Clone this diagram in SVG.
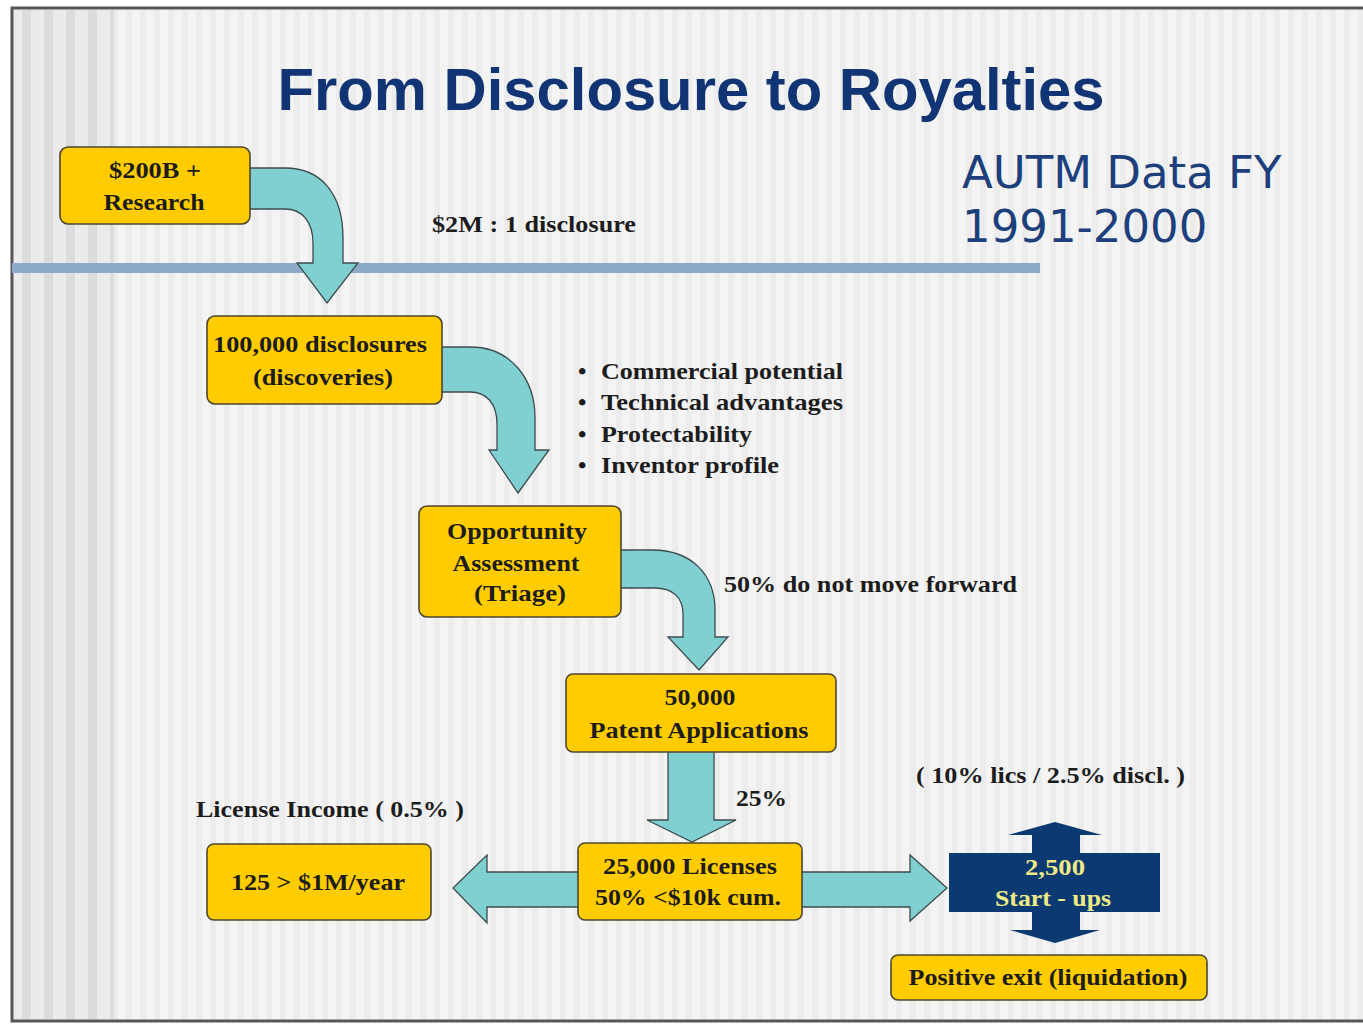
<svg xmlns="http://www.w3.org/2000/svg" width="1363" height="1024" viewBox="0 0 1363 1024">
<defs>
<pattern id="stripes" x="0" y="0" width="14" height="10" patternUnits="userSpaceOnUse">
<rect width="14" height="10" fill="#f4f4f4"/>
<rect width="6" height="10" fill="#ececec"/>
</pattern>
<pattern id="stripesDark" x="0" y="0" width="22" height="10" patternUnits="userSpaceOnUse">
<rect width="22" height="10" fill="#ebebeb"/>
<rect width="9" height="10" fill="#dcdcdc"/>
</pattern>
<style>
.box{fill:#ffcc00;stroke:#4f4630;stroke-width:1.6}
.arrow{fill:#80d0d2;stroke:#3b4b4d;stroke-width:1.3;stroke-linejoin:miter}
.t{font-family:"Liberation Serif","Times New Roman",serif;font-weight:bold;font-size:24px;fill:#1c1c1c}
.c{text-anchor:middle}
.title{font-family:"Liberation Sans",Arial,sans-serif;font-weight:bold;font-size:60px;fill:#113574}
.autm{font-family:"DejaVu Sans",Verdana,sans-serif;font-size:45px;fill:#1d3f7c}
.su{font-family:"Liberation Serif","Times New Roman",serif;font-weight:bold;font-size:24px;fill:#eeea86;text-anchor:middle}
</style>
</defs>
<rect width="1363" height="1024" fill="#ffffff"/>
<rect x="12" y="8" width="1360" height="1013" fill="url(#stripes)"/>
<rect x="14" y="10" width="100" height="1009" fill="url(#stripesDark)"/>
<rect x="12" y="8" width="1360" height="1013" fill="none" stroke="#575757" stroke-width="3"/>

<text class="title" x="691" y="110" text-anchor="middle" textLength="827" lengthAdjust="spacingAndGlyphs">From Disclosure to Royalties</text>
<g id="autm">
<text class="autm" x="962" y="188">AUTM Data FY</text>
<text class="autm" x="962" y="242">1991-2000</text>
</g>
<rect x="12" y="263" width="1028" height="10" fill="#8eaacb"/>

<g id="connectors">
<path class="arrow" d="M245,168 H285 C322,168 343,195 343,238 V263 H358 L327,303 L297,263 H313 V243 C313,222 302,209 285,209 H245 Z"/>
<path class="arrow" d="M437,347 H470 C510,347 535,378 535,418 V450 H549 L518,493 L489,450 H497 V424 C497,404 487,392 470,392 H437 Z"/>
<path class="arrow" d="M616,550 H652 C692,550 715,575 715,610 V637 H728 L699,670 L668,637 H683 V614 C683,597 672,588 655,588 H616 Z"/>
<path class="arrow" d="M668,748 V820 H647 L692,842 L736,820 H714 V748 Z"/>
<path class="arrow" d="M583,872 H487 V855 L453,888 L487,923 V907 H583 Z"/>
<path class="arrow" d="M797,872 H910 V855 L947,888 L910,921 V907 H797 Z"/>
</g>

<g id="research">
<rect class="box" x="60" y="147" width="190" height="77" rx="8"/>
<text class="t c" x="155" y="178" textLength="92" lengthAdjust="spacingAndGlyphs">$200B +</text>
<text class="t c" x="154" y="210" textLength="101" lengthAdjust="spacingAndGlyphs">Research</text>
</g>
<g id="disclosures">
<rect class="box" x="207" y="316" width="235" height="88" rx="8"/>
<text class="t c" x="320" y="352" textLength="214" lengthAdjust="spacingAndGlyphs">100,000 disclosures</text>
<text class="t c" x="323" y="385" textLength="140" lengthAdjust="spacingAndGlyphs">(discoveries)</text>
</g>
<g id="triage">
<rect class="box" x="419" y="506" width="202" height="111" rx="8"/>
<text class="t c" x="517" y="539" textLength="140" lengthAdjust="spacingAndGlyphs">Opportunity</text>
<text class="t c" x="516" y="571" textLength="127" lengthAdjust="spacingAndGlyphs">Assessment</text>
<text class="t c" x="520" y="601" textLength="92" lengthAdjust="spacingAndGlyphs">(Triage)</text>
</g>
<g id="patents">
<rect class="box" x="566" y="674" width="270" height="78" rx="7"/>
<text class="t c" x="700" y="705" textLength="71" lengthAdjust="spacingAndGlyphs">50,000</text>
<text class="t c" x="699" y="738" textLength="219" lengthAdjust="spacingAndGlyphs">Patent Applications</text>
</g>
<g id="licenses">
<rect class="box" x="578" y="843" width="224" height="77" rx="7"/>
<text class="t c" x="690" y="874" textLength="174" lengthAdjust="spacingAndGlyphs">25,000 Licenses</text>
<text class="t c" x="688" y="905" textLength="186" lengthAdjust="spacingAndGlyphs">50% &lt;$10k cum.</text>
</g>
<g id="income">
<rect class="box" x="207" y="844" width="224" height="76" rx="7"/>
<text class="t c" x="318" y="890" textLength="174" lengthAdjust="spacingAndGlyphs">125 &gt; $1M/year</text>
</g>
<g id="startups">
<path d="M1055,822 L1102,835 H1080 V853 H1160 V912 H1080 V930 H1100 L1055,943 L1010,930 H1032 V912 H949 V853 H1032 V835 H1008 Z" fill="#0b3a72"/>
<text class="su" x="1055" y="875" textLength="60" lengthAdjust="spacingAndGlyphs">2,500</text>
<text class="su" x="1053" y="906" textLength="116" lengthAdjust="spacingAndGlyphs">Start - ups</text>
</g>
<g id="exit">
<rect class="box" x="891" y="955" width="316" height="45" rx="7"/>
<text class="t c" x="1048" y="985" textLength="279" lengthAdjust="spacingAndGlyphs">Positive exit (liquidation)</text>
</g>

<g id="labels">
<text class="t" x="432" y="232" textLength="204" lengthAdjust="spacingAndGlyphs">$2M : 1 disclosure</text>
<text class="t" x="578" y="379">•</text>
<text class="t" x="578" y="410">•</text>
<text class="t" x="578" y="442">•</text>
<text class="t" x="578" y="473">•</text>
<text class="t" x="601" y="379" textLength="242" lengthAdjust="spacingAndGlyphs">Commercial potential</text>
<text class="t" x="601" y="410" textLength="242" lengthAdjust="spacingAndGlyphs">Technical advantages</text>
<text class="t" x="601" y="442" textLength="151" lengthAdjust="spacingAndGlyphs">Protectability</text>
<text class="t" x="601" y="473" textLength="178" lengthAdjust="spacingAndGlyphs">Inventor profile</text>
<text class="t" x="724" y="592" textLength="293" lengthAdjust="spacingAndGlyphs">50% do not move forward</text>
<text class="t" x="736" y="806" textLength="51" lengthAdjust="spacingAndGlyphs">25%</text>
<text class="t" x="196" y="817" textLength="268" lengthAdjust="spacingAndGlyphs">License Income ( 0.5% )</text>
<text class="t" x="916" y="783" textLength="269" lengthAdjust="spacingAndGlyphs">( 10% lics / 2.5% discl. )</text>
</g>
</svg>
